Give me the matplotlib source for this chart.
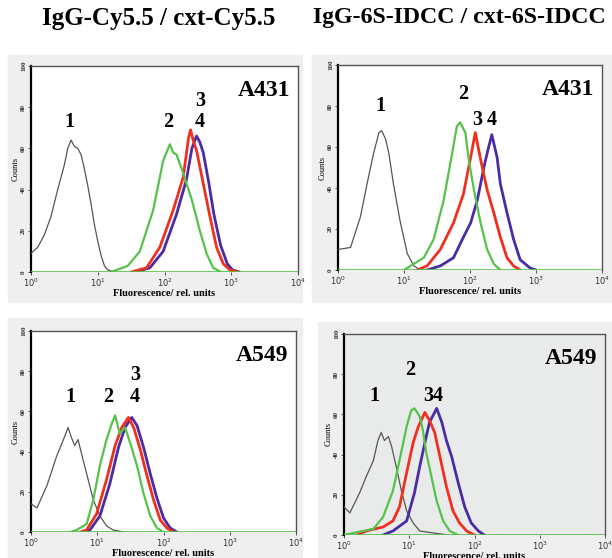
import numpy as np
import matplotlib
matplotlib.use("Agg")
import matplotlib.pyplot as plt
from matplotlib.patches import Rectangle

# data: log10(fluorescence) positions and counts
# top-left, A431, IgG-Cy5.5 / cxt-Cy5.5
a431_cy_1_x = [0.0, 0.1, 0.2, 0.3, 0.4, 0.5, 0.55, 0.6, 0.65, 0.7, 0.75, 0.8, 0.85, 0.9, 0.95, 1.0, 1.05, 1.1, 1.15, 1.25]
a431_cy_1_y = [9, 12, 18, 27, 40, 52, 60, 64, 61, 60, 57, 50, 42, 33, 23, 15, 8, 3, 1, 0]
a431_cy_2_x = [1.2, 1.45, 1.63, 1.83, 1.98, 2.08, 2.13, 2.18, 2.28, 2.41, 2.53, 2.63, 2.73, 2.85]
a431_cy_2_y = [0, 3, 10, 30, 54, 62, 58, 57, 48, 35, 20, 9, 2, 0]
a431_cy_3_x = [1.5, 1.73, 1.93, 2.13, 2.28, 2.36, 2.39, 2.43, 2.48, 2.58, 2.68, 2.78, 2.88, 2.98, 3.1]
a431_cy_3_y = [0, 2, 12, 30, 46, 65, 69, 64, 59, 43, 27, 12, 4, 1, 0]
a431_cy_4_x = [1.55, 1.78, 1.98, 2.18, 2.33, 2.41, 2.48, 2.53, 2.58, 2.66, 2.74, 2.84, 2.94, 3.02, 3.12]
a431_cy_4_y = [0, 2, 10, 28, 45, 60, 66, 63, 58, 44, 28, 13, 4, 1, 0]

# top-right, A431, IgG-6S-IDCC / cxt-6S-IDCC
a431_id_1_x = [0.0, 0.19, 0.34, 0.44, 0.54, 0.62, 0.66, 0.72, 0.77, 0.84, 0.94, 1.05, 1.15, 1.25]
a431_id_1_y = [10, 11, 26, 42, 57, 67, 68, 64, 57, 42, 24, 8, 2, 0]
a431_id_2_x = [1.0, 1.1, 1.3, 1.45, 1.6, 1.73, 1.8, 1.85, 1.93, 1.98, 2.06, 2.16, 2.26, 2.36, 2.46]
a431_id_2_y = [0, 2, 6, 15, 34, 57, 70, 72, 67, 54, 39, 23, 10, 3, 0]
a431_id_3_x = [1.2, 1.35, 1.55, 1.75, 1.9, 2.01, 2.08, 2.16, 2.26, 2.36, 2.46, 2.56, 2.66, 2.76]
a431_id_3_y = [0, 2, 10, 23, 37, 55, 67, 54, 39, 28, 16, 6, 2, 0]
a431_id_4_x = [1.35, 1.55, 1.75, 1.9, 2.01, 2.11, 2.21, 2.26, 2.33, 2.41, 2.46, 2.56, 2.66, 2.76, 2.91, 3.0]
a431_id_4_y = [0, 2, 6, 16, 23, 34, 50, 57, 66, 55, 42, 28, 15, 5, 1, 0]

# bottom-left, A549, IgG-Cy5.5 / cxt-Cy5.5
a549_cy_1_x = [0.0, 0.09, 0.24, 0.39, 0.49, 0.56, 0.61, 0.66, 0.71, 0.77, 0.84, 0.94, 1.04, 1.14, 1.24, 1.4]
a549_cy_1_y = [14, 12, 23, 38, 46, 52, 47, 43, 46, 38, 29, 16, 8, 3, 1, 0]
a549_cy_2_x = [0.6, 0.69, 0.84, 0.94, 1.04, 1.14, 1.22, 1.27, 1.34, 1.42, 1.5, 1.6, 1.7, 1.8, 1.9, 2.0]
a549_cy_2_y = [0, 1, 4, 16, 33, 46, 54, 58, 49, 52, 44, 33, 19, 8, 2, 0]
a549_cy_3_x = [0.75, 0.84, 0.99, 1.14, 1.27, 1.37, 1.47, 1.55, 1.65, 1.75, 1.85, 1.95, 2.05, 2.15]
a549_cy_3_y = [0, 1, 9, 26, 43, 52, 57, 52, 41, 28, 16, 6, 2, 0]
a549_cy_4_x = [0.8, 0.89, 1.04, 1.19, 1.32, 1.42, 1.52, 1.6, 1.7, 1.8, 1.9, 2.0, 2.1, 2.2]
a549_cy_4_y = [0, 1, 8, 24, 42, 52, 57, 53, 42, 29, 17, 7, 2, 0]

# bottom-right, A549, IgG-6S-IDCC / cxt-6S-IDCC
a549_id_1_x = [0.0, 0.09, 0.24, 0.34, 0.45, 0.52, 0.57, 0.62, 0.68, 0.73, 0.8, 0.88, 0.96, 1.06, 1.16, 1.37, 1.6]
a549_id_1_y = [14, 11, 21, 29, 37, 47, 51, 47, 49, 44, 34, 22, 12, 6, 2, 1, 0]
a549_id_2_x = [0.0, 0.14, 0.45, 0.6, 0.75, 0.85, 0.96, 1.03, 1.08, 1.16, 1.21, 1.26, 1.34, 1.42, 1.52, 1.62, 1.75]
a549_id_2_y = [0, 1, 3, 9, 22, 37, 54, 62, 63, 59, 52, 41, 29, 17, 7, 2, 0]
a549_id_3_x = [0.2, 0.34, 0.6, 0.75, 0.85, 0.96, 1.06, 1.14, 1.24, 1.31, 1.39, 1.47, 1.57, 1.67, 1.77, 1.88, 2.0]
a549_id_3_y = [0, 2, 4, 7, 14, 31, 46, 54, 61, 57, 51, 39, 24, 12, 6, 2, 0]
a549_id_4_x = [0.6, 0.75, 0.96, 1.08, 1.16, 1.24, 1.31, 1.42, 1.5, 1.57, 1.65, 1.75, 1.85, 1.95, 2.06, 2.15]
a549_id_4_y = [0, 2, 7, 21, 34, 46, 56, 63, 56, 47, 39, 26, 14, 6, 2, 0]

# label positions (log10 x, counts)
lab_tl = [("1", 0.58, 73), ("2", 2.06, 73), ("3", 2.53, 83), ("4", 2.53, 73)]
lab_tr = [("1", 0.64, 80), ("2", 1.90, 86), ("3", 2.11, 73), ("4", 2.33, 73)]
lab_bl = [("1", 0.59, 67), ("2", 1.17, 67), ("3", 1.57, 78), ("4", 1.57, 67)]
lab_br = [("1", 0.47, 69), ("2", 1.01, 82), ("3", 1.29, 69), ("4", 1.44, 69)]

plt.rcParams["font.family"] = ["Liberation Serif", "DejaVu Serif"]

fig = plt.figure(figsize=(6.12, 5.58), dpi=100)
W, H = 612, 558

def frac(x0, y0, x1, y1):
    return [x0 / W, 1 - y1 / H, (x1 - x0) / W, (y1 - y0) / H]

# gray card backgrounds behind the panels
for (x0, y0, x1, y1) in [(8, 55, 302, 302), (312, 55, 612, 302), (8, 318, 302, 558), (318, 322, 612, 558)]:
    fig.patches.append(Rectangle((x0 / W, 1 - y1 / H), (x1 - x0) / W, (y1 - y0) / H,
                                 transform=fig.transFigure, color="#efefef", zorder=-5))

gray_c = "#555555"
green_c = "#55c24a"
red_c = "#f0301e"
blue_c = "#4a2ca6"

panels = [
    (frac(31, 66, 298, 272), "white", "A431", lab_tl, red_c,
     [(a431_cy_1_x, a431_cy_1_y), (a431_cy_2_x, a431_cy_2_y), (a431_cy_3_x, a431_cy_3_y), (a431_cy_4_x, a431_cy_4_y)]),
    (frac(338, 65, 602, 270), "white", "A431", lab_tr, blue_c,
     [(a431_id_1_x, a431_id_1_y), (a431_id_2_x, a431_id_2_y), (a431_id_3_x, a431_id_3_y), (a431_id_4_x, a431_id_4_y)]),
    (frac(31, 331, 296, 532), "white", "A549", lab_bl, red_c,
     [(a549_cy_1_x, a549_cy_1_y), (a549_cy_2_x, a549_cy_2_y), (a549_cy_3_x, a549_cy_3_y), (a549_cy_4_x, a549_cy_4_y)]),
    (frac(344, 334, 605, 535), "#e9ebeb", "A549", lab_br, red_c,
     [(a549_id_1_x, a549_id_1_y), (a549_id_2_x, a549_id_2_y), (a549_id_3_x, a549_id_3_y), (a549_id_4_x, a549_id_4_y)]),
]

for rect, bg, cell, labels, dot_c, curves in panels:
    ax = fig.add_axes(rect)
    ax.set_facecolor(bg)
    ax.set_xscale("log")
    ax.set_xlim(1, 1e4)
    ax.set_ylim(0, 100)

    (x1, y1), (x2, y2), (x3, y3), (x4, y4) = curves
    ax.axhline(0, color=dot_c, lw=1.0, ls=(0, (1, 1.5)), alpha=0.5, zorder=2)
    ax.plot(10 ** np.array(x1), y1, color=gray_c, lw=0.9, zorder=3)
    ax.plot(10 ** np.array(x4), y4, color=blue_c, lw=2.0, zorder=4)
    ax.plot(10 ** np.array(x3), y3, color=red_c, lw=2.0, zorder=5)
    ax.plot(10 ** np.array(x2), y2, color=green_c, lw=1.6, zorder=6)
    ax.axhline(0, color=green_c, lw=1.2, zorder=6)

    for t, lx, ly in labels:
        ax.text(10 ** lx, ly, t, ha="center", va="center", fontsize=14.5, fontweight="bold")
    ax.text(0.97, 0.88, cell, transform=ax.transAxes, ha="right", va="center",
            fontsize=17, fontweight="bold")

    for s in ["top", "right"]:
        ax.spines[s].set_color("#555555")
        ax.spines[s].set_linewidth(1.0)
    ax.spines["left"].set_color("black")
    ax.spines["left"].set_linewidth(1.6)
    ax.spines["bottom"].set_visible(False)

    ax.set_xticks([1, 10, 100, 1000, 10000])
    ax.set_xticklabels(["$10^0$", "$10^1$", "$10^2$", "$10^3$", "$10^4$"], fontsize=6)
    ax.xaxis.set_minor_locator(matplotlib.ticker.NullLocator())
    ax.set_yticks([0, 20, 40, 60, 80, 100])
    ax.set_yticklabels(["0", "20", "40", "60", "80", "100"], fontsize=5, rotation=90,
                       va="center", fontweight="bold")
    ax.tick_params(length=2, width=0.6, pad=1.5, colors="#333333")
    ax.set_xlabel("Fluorescence/ rel. units", fontsize=7.5, fontweight="bold", labelpad=0)
    ax.set_ylabel("Counts", fontsize=6, labelpad=1)

fig.text(159 / W, 1 - 18 / H, "IgG-Cy5.5 / cxt-Cy5.5", ha="center", va="center",
         fontsize=18, fontweight="bold")
fig.text(459 / W, 1 - 18 / H, "IgG-6S-IDCC / cxt-6S-IDCC", ha="center", va="center",
         fontsize=17.2, fontweight="bold")

fig.savefig("out.png", dpi=100)
